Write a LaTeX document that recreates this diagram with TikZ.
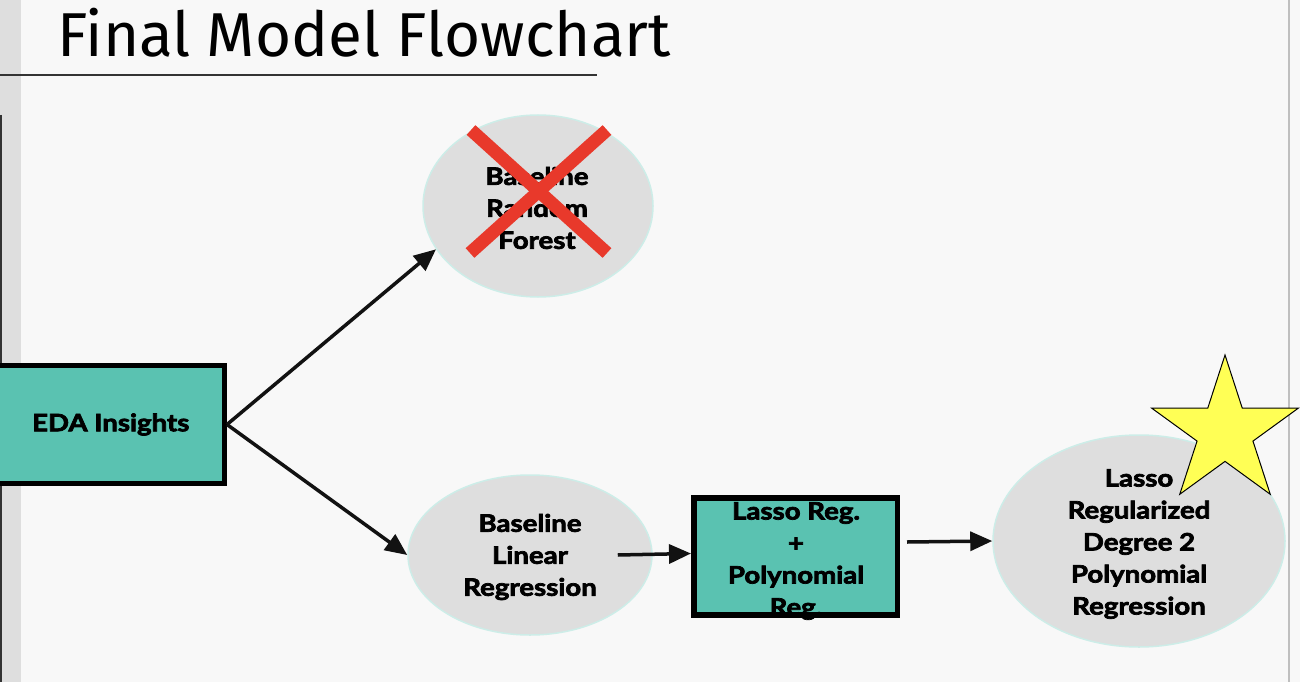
\documentclass[tikz,border=0pt]{standalone}
\usepackage{fontspec}
\usetikzlibrary{arrows.meta,shapes.geometric,calc}
\newfontfamily\titlefont{Fira Sans}
\newfontfamily\latofam{Lato}[BoldFeatures={FakeStretch=1.15,FakeBold=3}]
\newcommand\nodefont{\latofam\bfseries}
\definecolor{bgcol}{HTML}{F8F8F8}
\definecolor{stripcol}{HTML}{DEDEDE}
\definecolor{tealfill}{HTML}{5AC2B1}
\definecolor{ellfill}{HTML}{DEDEDE}
\definecolor{ellline}{HTML}{CDEDE8}
\definecolor{xred}{HTML}{E8392B}
\definecolor{staryellow}{HTML}{FFFF55}
\begin{document}
\begin{tikzpicture}[x=1pt,y=-1pt,
  tealbox/.style={rectangle, draw=black, line width=5pt, fill=tealfill, inner sep=0pt},
  oval/.style={ellipse, fill=ellfill, draw=ellline, line width=1.5pt, inner sep=0pt},
  lbl/.style={font=\nodefont\fontsize{24}{32}\selectfont, align=center, inner sep=0pt, text=black},
  arr/.style={line width=3.5pt, draw=black!93, -{Triangle[length=22pt,width=19pt]}},
]
\useasboundingbox (0,0) rectangle (1300,682);
\fill[bgcol] (0,0) rectangle (1300,682);
\fill[stripcol] (0,0) rectangle (21,682);
\draw[line width=1.5pt, black!80] (0.75,115) -- (0.75,682);
\draw[line width=2pt, black!25] (1288.5,0) -- (1288.5,682);
\draw[line width=1.5pt, black!80] (0,75) -- (597,75);
\node[anchor=base west, font=\titlefont\fontsize{62}{70}\selectfont, inner sep=0pt] (title) at (57,57) {Final Model Flowchart};

\node[tealbox, minimum width=227.5pt, minimum height=118pt, font=\nodefont\fontsize{24}{32}\selectfont] (eda) at (110.75,424.5) {EDA Insights};

\node[oval, minimum width=230pt, minimum height=182pt] (rf) at (538,206) {};
\node[lbl] (rft) at (537,208) {Baseline\\Random\\Forest};
\draw[xred, line width=13pt] (471,130) -- (607,253);
\draw[xred, line width=13pt] (607,130) -- (470,253);

\node[oval, minimum width=244pt, minimum height=160pt] (lr) at (530,555) {};
\node[lbl] (lrt) at (530,557) {Baseline\\Linear\\Regression};

\node[tealbox, line width=5.5pt, minimum width=203.5pt, minimum height=117pt] (lasso) at (795.5,556.5) {};
\node[lbl] (lassot) at (796,561) {Lasso Reg.\\+\\Polynomial\\Reg.};

\node[oval, minimum width=292pt, minimum height=212pt] (final) at (1139,541) {};
\node[lbl] (finalt) at (1139,544) {Lasso\\Regularized\\Degree 2\\Polynomial\\Regression};

\node[star, star points=5, star point ratio=2.62, minimum size=154pt, inner sep=0pt, draw=black, line width=1pt, fill=staryellow] (star) at (1225,432) {};

\draw[arr] (eda.east) -- (rf.203.5);
\draw[arr] (eda.east) -- (lr.west);
\draw[arr] ($(lr.east)+(-35,0)$) -- ($(lasso.west)+(0,-3)$);
\draw[arr] ($(lasso.east |- final.west)+(7,1)$) -- (final.west);
\end{tikzpicture}
\end{document}
